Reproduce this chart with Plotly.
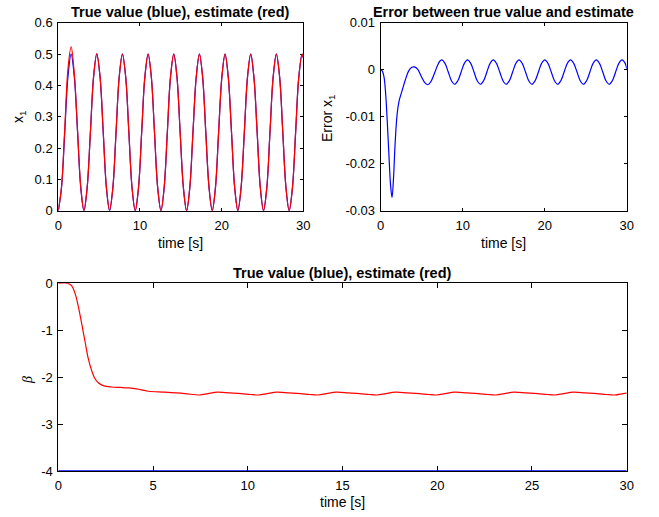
import plotly.graph_objects as go

W, H = 659, 517

# ---------------- data ----------------
t_x1 = [0.00, 0.39, 0.79, 1.18, 1.57, 1.96, 2.36, 2.75, 3.14, 3.53, 3.93, 4.32, 4.71, 5.11, 5.50, 5.89,
        6.28, 6.68, 7.07, 7.46, 7.85, 8.25, 8.64, 9.03, 9.42, 9.82, 10.21, 10.60, 11.00, 11.39, 11.78, 12.17,
        12.57, 12.96, 13.35, 13.74, 14.14, 14.53, 14.92, 15.32, 15.71, 16.10, 16.49, 16.89, 17.28, 17.67, 18.06, 18.46,
        18.85, 19.24, 19.63, 20.03, 20.42, 20.81, 21.21, 21.60, 21.99, 22.38, 22.78, 23.17, 23.56, 23.95, 24.35, 24.74,
        25.13, 25.53, 25.92, 26.31, 26.70, 27.10, 27.49, 27.88, 28.27, 28.67, 29.06, 29.45, 29.85, 30.00]

x1_true = [0, 0.073, 0.25, 0.427, 0.5, 0.427, 0.25, 0.073,
           0, 0.073, 0.25, 0.427, 0.5, 0.427, 0.25, 0.073,
           0, 0.073, 0.25, 0.427, 0.5, 0.427, 0.25, 0.073,
           0, 0.073, 0.25, 0.427, 0.5, 0.427, 0.25, 0.073,
           0, 0.073, 0.25, 0.427, 0.5, 0.427, 0.25, 0.073,
           0, 0.073, 0.25, 0.427, 0.5, 0.427, 0.25, 0.073,
           0, 0.073, 0.25, 0.427, 0.5, 0.427, 0.25, 0.073,
           0, 0.073, 0.25, 0.427, 0.5, 0.427, 0.25, 0.073,
           0, 0.073, 0.25, 0.427, 0.5, 0.427, 0.25, 0.073,
           0, 0.073, 0.25, 0.427, 0.5, 0.488]

x1_est = [0, 0.075, 0.261, 0.451, 0.523, 0.437, 0.256, 0.077,
          0.001, 0.073, 0.249, 0.427, 0.501, 0.429, 0.253, 0.076,
          0.002, 0.073, 0.25, 0.427, 0.5, 0.427, 0.25, 0.073,
          0, 0.073, 0.25, 0.427, 0.5, 0.427, 0.25, 0.073,
          0, 0.073, 0.25, 0.427, 0.5, 0.427, 0.25, 0.073,
          0, 0.073, 0.25, 0.427, 0.5, 0.427, 0.25, 0.073,
          0, 0.073, 0.25, 0.427, 0.5, 0.427, 0.25, 0.073,
          0, 0.073, 0.25, 0.427, 0.5, 0.427, 0.25, 0.073,
          0, 0.073, 0.25, 0.427, 0.5, 0.427, 0.25, 0.073,
          0, 0.073, 0.25, 0.427, 0.5, 0.488]

t_err = [0.0, 0.2, 0.4, 0.6, 0.8, 1.0, 1.2, 1.38, 1.55, 1.75, 2.0, 2.25, 2.6, 3.0, 3.4, 3.8, 4.1, 4.5,
         5.0, 5.4, 5.75, 6.1, 6.5, 6.9, 7.2,
         7.45, 7.84, 8.24, 8.63, 9.02, 9.41, 9.81, 10.20, 10.59, 10.98, 11.38, 11.77, 12.16, 12.55, 12.95, 13.34,
         13.73, 14.12, 14.52, 14.91, 15.30, 15.69, 16.09, 16.48, 16.87, 17.26, 17.66, 18.05, 18.44, 18.83, 19.23, 19.62,
         20.01, 20.40, 20.80, 21.19, 21.58, 21.97, 22.37, 22.76, 23.15, 23.54, 23.94, 24.33, 24.72, 25.11, 25.51, 25.90,
         26.29, 26.68, 27.08, 27.47, 27.86, 28.25, 28.65, 29.04, 29.43, 29.82, 30.00]

err_x1 = [0.0, -0.0003, -0.0015, -0.005, -0.011, -0.018, -0.0245, -0.0272, -0.0235, -0.016, -0.0095, -0.0066,
          -0.0045, -0.0022, -0.0003, 0.0005, 0.0006, 0.0001, -0.0016, -0.0028, -0.0032, -0.0026, -0.001, 0.0008, 0.0018,
          0.0021, 0.00134, -0.0005, -0.00234, -0.0031, -0.00234, -0.0005, 0.00134,
          0.0021, 0.00134, -0.0005, -0.00234, -0.0031, -0.00234, -0.0005, 0.00134,
          0.0021, 0.00134, -0.0005, -0.00234, -0.0031, -0.00234, -0.0005, 0.00134,
          0.0021, 0.00134, -0.0005, -0.00234, -0.0031, -0.00234, -0.0005, 0.00134,
          0.0021, 0.00134, -0.0005, -0.00234, -0.0031, -0.00234, -0.0005, 0.00134,
          0.0021, 0.00134, -0.0005, -0.00234, -0.0031, -0.00234, -0.0005, 0.00134,
          0.0021, 0.00134, -0.0005, -0.00234, -0.0031, -0.00234, -0.0005, 0.00134,
          0.0021, 0.00134, 0.0002]

t_beta = [0.0, 0.5, 0.7, 0.88, 1.06, 1.23, 1.41, 1.58, 1.76, 1.93, 2.11, 2.37, 2.81, 3.3, 3.69, 4.13, 4.75, 5.63, 6.68,
          7.45, 7.90, 8.40, 9.05, 9.65, 10.15,
          10.58, 11.03, 11.53, 12.18, 12.78, 13.28,
          13.71, 14.16, 14.66, 15.31, 15.91, 16.41,
          16.84, 17.29, 17.79, 18.44, 19.04, 19.54,
          19.97, 20.42, 20.92, 21.57, 22.17, 22.67,
          23.10, 23.55, 24.05, 24.70, 25.30, 25.80,
          26.23, 26.68, 27.18, 27.83, 28.43, 28.93,
          29.36, 29.81, 30.00]

beta_est = [0.0, 0.0, -0.05, -0.21, -0.5, -0.85, -1.24, -1.6, -1.86, -2.03, -2.12, -2.18, -2.21, -2.22, -2.23, -2.25,
            -2.30, -2.32, -2.35,
            -2.38, -2.35, -2.32, -2.335, -2.35, -2.37,
            -2.38, -2.35, -2.32, -2.335, -2.35, -2.37,
            -2.38, -2.35, -2.32, -2.335, -2.35, -2.37,
            -2.38, -2.35, -2.32, -2.335, -2.35, -2.37,
            -2.38, -2.35, -2.32, -2.335, -2.35, -2.37,
            -2.38, -2.35, -2.32, -2.335, -2.35, -2.37,
            -2.38, -2.35, -2.32, -2.335, -2.35, -2.37,
            -2.38, -2.35, -2.34]

t_beta_true = [0, 30]
beta_true = [-4, -4]

x1_ticks = [0, 0.1, 0.2, 0.3, 0.4, 0.5, 0.6]
x1_ticktext = ["0", "0.1", "0.2", "0.3", "0.4", "0.5", "0.6"]
err_ticks = [0.01, 0, -0.01, -0.02, -0.03]
err_ticktext = ["0.01", "0", "-0.01", "-0.02", "-0.03"]
beta_ticks = [0, -1, -2, -3, -4]
beta_ticktext = ["0", "-1", "-2", "-3", "-4"]
t_ticks_top = [0, 10, 20, 30]
t_ticks_bottom = [0, 5, 10, 15, 20, 25, 30]

# ---------------- figure ----------------
BLUE = "#0000ff"
RED = "#ff0000"
FONT = "Liberation Sans, Arial, Helvetica, sans-serif"

fig = go.Figure()
fig.add_trace(go.Scatter(x=t_x1, y=x1_true, mode="lines", line=dict(color=BLUE, width=1.2, shape="spline"),
                         xaxis="x", yaxis="y", showlegend=False))
fig.add_trace(go.Scatter(x=t_x1, y=x1_est, mode="lines", line=dict(color=RED, width=1.2, shape="spline"),
                         xaxis="x", yaxis="y", showlegend=False))
fig.add_trace(go.Scatter(x=t_err, y=err_x1, mode="lines", line=dict(color=BLUE, width=1.2, shape="spline"),
                         xaxis="x2", yaxis="y2", showlegend=False))
fig.add_trace(go.Scatter(x=t_beta_true, y=beta_true, mode="lines", line=dict(color=BLUE, width=1.6),
                         xaxis="x3", yaxis="y3", showlegend=False))
fig.add_trace(go.Scatter(x=t_beta, y=beta_est, mode="lines", line=dict(color=RED, width=1.2, shape="spline"),
                         xaxis="x3", yaxis="y3", showlegend=False))


def px_x(p):
    return p / W


def px_y(p):
    return 1 - p / H


def axis(**kw):
    d = dict(showline=True, linecolor="black", linewidth=1, mirror="allticks", ticks="inside",
             tickcolor="black", showgrid=False, zeroline=False, layer="below traces", automargin=False,
             tickfont=dict(family=FONT, size=13, color="black"), fixedrange=True)
    d.update(kw)
    return d


L1, R1 = 58.3, 303.3
L2, R2 = 380.7, 626.7
T1, B1 = 22.7, 210.7
T3, B3 = 283.3, 471.0

fig.update_layout(
    width=W, height=H,
    margin=dict(l=0, r=0, t=0, b=0, pad=0, autoexpand=False),
    paper_bgcolor="white", plot_bgcolor="white",
    font=dict(family=FONT, size=13, color="black"),
    hovermode=False,
    xaxis=axis(domain=[px_x(L1), px_x(R1)], range=[0, 30], tickvals=t_ticks_top, ticklen=3, anchor="y",
               ticklabelstandoff=3),
    yaxis=axis(domain=[px_y(B1), px_y(T1)], range=[0, 0.6], tickvals=x1_ticks, ticktext=x1_ticktext,
               ticklen=3, anchor="x", ticklabelstandoff=2),
    xaxis2=axis(domain=[px_x(L2), px_x(R2)], range=[0, 30], tickvals=t_ticks_top, ticklen=3, anchor="y2",
                ticklabelstandoff=3),
    yaxis2=axis(domain=[px_y(B1), px_y(T1)], range=[-0.03, 0.01], tickvals=err_ticks, ticktext=err_ticktext,
                ticklen=3, anchor="x2", ticklabelstandoff=2),
    xaxis3=axis(domain=[px_x(L1), px_x(R2)], range=[0, 30], tickvals=t_ticks_bottom, ticklen=5, anchor="y3",
                ticklabelstandoff=2),
    yaxis3=axis(domain=[px_y(B3), px_y(T3)], range=[-4, 0], tickvals=beta_ticks, ticktext=beta_ticktext,
                ticklen=5, anchor="x3", ticklabelstandoff=2),
)

anns = []


def ann(text, x, y, size=14, bold=False, angle=0, family=FONT):
    anns.append(dict(text=text, x=px_x(x), y=px_y(y), xref="paper", yref="paper", showarrow=False,
                     xanchor="center", yanchor="middle", textangle=angle,
                     font=dict(family=family, size=size, color="black", weight="bold" if bold else "normal")))


ann("True value (blue), estimate (red)", (L1 + R1) / 2, 12, size=14.5, bold=True)
ann("Error between true value and estimate", (L2 + R2) / 2, 12, size=14.4, bold=True)
ann("True value (blue), estimate (red)", (L1 + R2) / 2, 272.5, size=14.5, bold=True)
ann("time [s]", (L1 + R1) / 2, 243)
ann("time [s]", (L2 + R2) / 2, 243)
ann("time [s]", (L1 + R2) / 2, 502)
ann("x<sub>1</sub>", 19, 117, angle=-90)
ann("Error x<sub>1</sub>", 328, 119, angle=-90)
ann("<i>β</i>", 27, 380, angle=-90, family="Liberation Serif, DejaVu Serif, serif")

fig.update_layout(annotations=anns)

fig.write_html("out.html", config={"displayModeBar": False, "staticPlot": True},
               post_script="document.body.style.margin='0';")
